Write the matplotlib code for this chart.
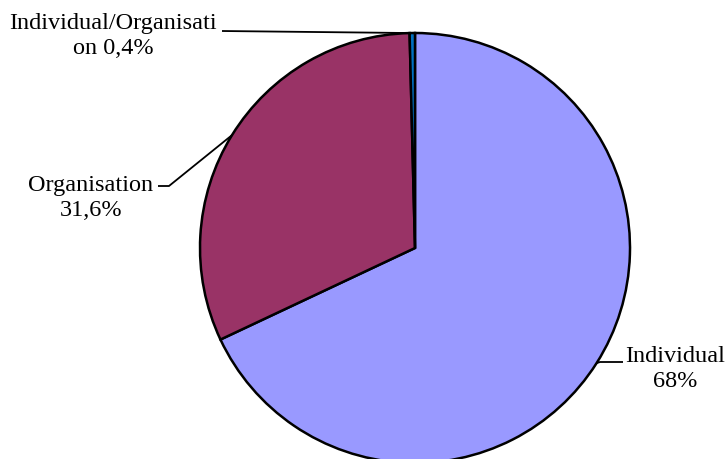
import numpy as np
import matplotlib.pyplot as plt

labels = ["Individual", "Organisation", "Individual/Organisati\non"]
values = [68.0, 31.6, 0.4]
value_text = ["68%", "31,6%", "0,4%"]
colors = ["#9999FF", "#993366", "#0070C0"]

W, H = 726, 459
fig = plt.figure(figsize=(W / 100, H / 100), dpi=100)
ax = fig.add_axes([0, 0, 1, 1])

cx, cy, r = 415, H - 248, 215
wedges, _ = ax.pie(values, colors=colors, startangle=90, counterclock=False,
                   center=(cx, cy), radius=r, frame=True,
                   wedgeprops=dict(edgecolor="black", linewidth=1.8))
ax.set_xlim(0, W)
ax.set_ylim(0, H)
ax.set_aspect("equal")
ax.axis("off")

font = dict(family="Liberation Serif", fontsize=17.5, color="black")

# label text positions and knee points (pixels, top-left origin)
text_pos = [(675, 369), (91, 198), (113, 36)]
knees = [(600, 362), (169, 186), (222, 31)]
line_ends = [(623, 362), (158, 186), (222, 31)]
edge_ang = [None, None, 90.0]

for i, w in enumerate(wedges):
    if edge_ang[i] is None:
        ang = np.deg2rad((w.theta1 + w.theta2) / 2)
    else:
        ang = np.deg2rad(w.theta2 - 0.3)
    px, py = cx + r * np.cos(ang), cy + r * np.sin(ang)
    kx, ky = knees[i]
    ex, ey = line_ends[i]
    ax.plot([px, kx, ex], [py, H - ky, H - ey], color="black", lw=1.3,
            solid_capstyle="butt")
    ax.text(text_pos[i][0], H - text_pos[i][1],
            labels[i] + (" " if i == 2 else "\n") + value_text[i],
            ha="center", va="center", linespacing=1.3, **font)

fig.savefig("out.png", dpi=100)
